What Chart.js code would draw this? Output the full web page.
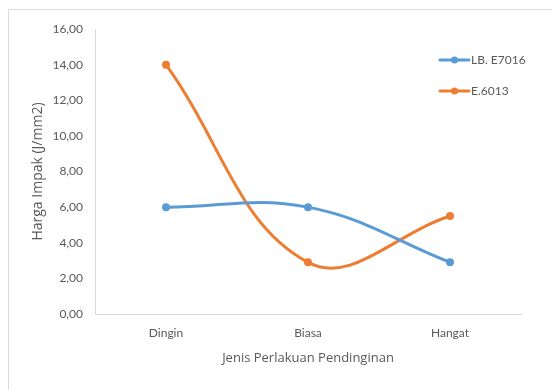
<!DOCTYPE html>
<html>
<head>
<meta charset="utf-8">
<script src="https://cdn.jsdelivr.net/npm/chart.js@4/dist/chart.umd.min.js"></script>
<style>
  html, body { margin: 0; padding: 0; background: #ffffff; }
  canvas { display: block; }
</style>
</head>
<body>
<canvas id="c" width="552" height="390"></canvas>
<script>
// Categories and series values
const categories = ['Dingin', 'Biasa', 'Hangat'];
const seriesNames = ['LB. E7016', 'E.6013'];
const lbE7016 = [6.0, 6.0, 2.9];
const e6013 = [14.0, 2.9, 5.5];
const yTicks = [0, 2, 4, 6, 8, 10, 12, 14, 16];

const BLUE = '#5B9BD5';
const ORANGE = '#ED7D31';
const TEXT = '#595959';
const FONT = 'Lato, "Open Sans", sans-serif';
const TITLE_FONT = '"Open Sans", Lato, sans-serif';

// Outer frame of the chart
const framePlugin = {
  id: 'frame',
  beforeDraw(chart) {
    const ctx = chart.ctx;
    ctx.save();
    ctx.strokeStyle = '#d9d9d9';
    ctx.lineWidth = 1;
    ctx.beginPath();
    ctx.moveTo(8.5, chart.height);
    ctx.lineTo(8.5, 9.5);
    ctx.lineTo(chart.width, 9.5);
    ctx.stroke();
    ctx.restore();
  }
};

// Legend drawn inside the plot, top right
const insetLegend = {
  id: 'insetLegend',
  afterDraw(chart) {
    const ctx = chart.ctx;
    ctx.save();
    ctx.font = '12px ' + FONT;
    ctx.textBaseline = 'middle';
    chart.data.datasets.forEach((ds, i) => {
      const y = 60 + i * 31;
      ctx.strokeStyle = ds.borderColor;
      ctx.lineWidth = 3;
      ctx.lineCap = 'round';
      ctx.beginPath();
      ctx.moveTo(440, y);
      ctx.lineTo(469, y);
      ctx.stroke();
      ctx.fillStyle = ds.borderColor;
      ctx.beginPath();
      ctx.arc(454.5, y, 3.5, 0, Math.PI * 2);
      ctx.fill();
      ctx.fillStyle = TEXT;
      ctx.fillText(ds.label, 471, y);
    });
    ctx.restore();
  }
};

new Chart(document.getElementById('c'), {
  type: 'line',
  data: {
    labels: categories,
    datasets: [
      {
        label: seriesNames[0],
        data: lbE7016,
        borderColor: BLUE,
        backgroundColor: BLUE,
        borderWidth: 3,
        pointRadius: 4,
        pointBorderWidth: 0,
        pointHoverRadius: 4,
        tension: 0.4,
        fill: false
      },
      {
        label: seriesNames[1],
        data: e6013,
        borderColor: ORANGE,
        backgroundColor: ORANGE,
        borderWidth: 3,
        pointRadius: 4,
        pointBorderWidth: 0,
        pointHoverRadius: 4,
        tension: 0.4,
        fill: false
      }
    ]
  },
  options: {
    responsive: false,
    animation: false,
    layout: { padding: { left: 26, top: 29, right: 31, bottom: 20 } },
    plugins: {
      legend: { display: false },
      tooltip: { enabled: false }
    },
    scales: {
      x: {
        offset: true,
        grid: { display: false, drawTicks: false },
        border: { display: true, color: '#d9d9d9', width: 1 },
        ticks: { color: TEXT, font: { family: FONT, size: 12 }, padding: 12 },
        title: {
          display: true,
          text: 'Jenis Perlakuan Pendinginan',
          color: TEXT,
          font: { family: TITLE_FONT, size: 13 }
        },
        afterFit(scale) { scale.height = 56; }
      },
      y: {
        min: 0,
        max: 16,
        afterBuildTicks(scale) { scale.ticks = yTicks.map(v => ({ value: v })); },
        grid: { display: false, drawTicks: false },
        border: { display: true, color: '#d9d9d9', width: 1 },
        ticks: {
          color: TEXT,
          font: { family: FONT, size: 12 },
          padding: 12,
          callback: v => v.toFixed(2).replace('.', ',')
        },
        title: {
          display: true,
          text: 'Harga Impak (J/mm2)',
          color: TEXT,
          font: { family: TITLE_FONT, size: 14 }
        },
        afterFit(scale) { scale.width = 69; }
      }
    }
  },
  plugins: [framePlugin, insetLegend]
});
</script>
</body>
</html>
